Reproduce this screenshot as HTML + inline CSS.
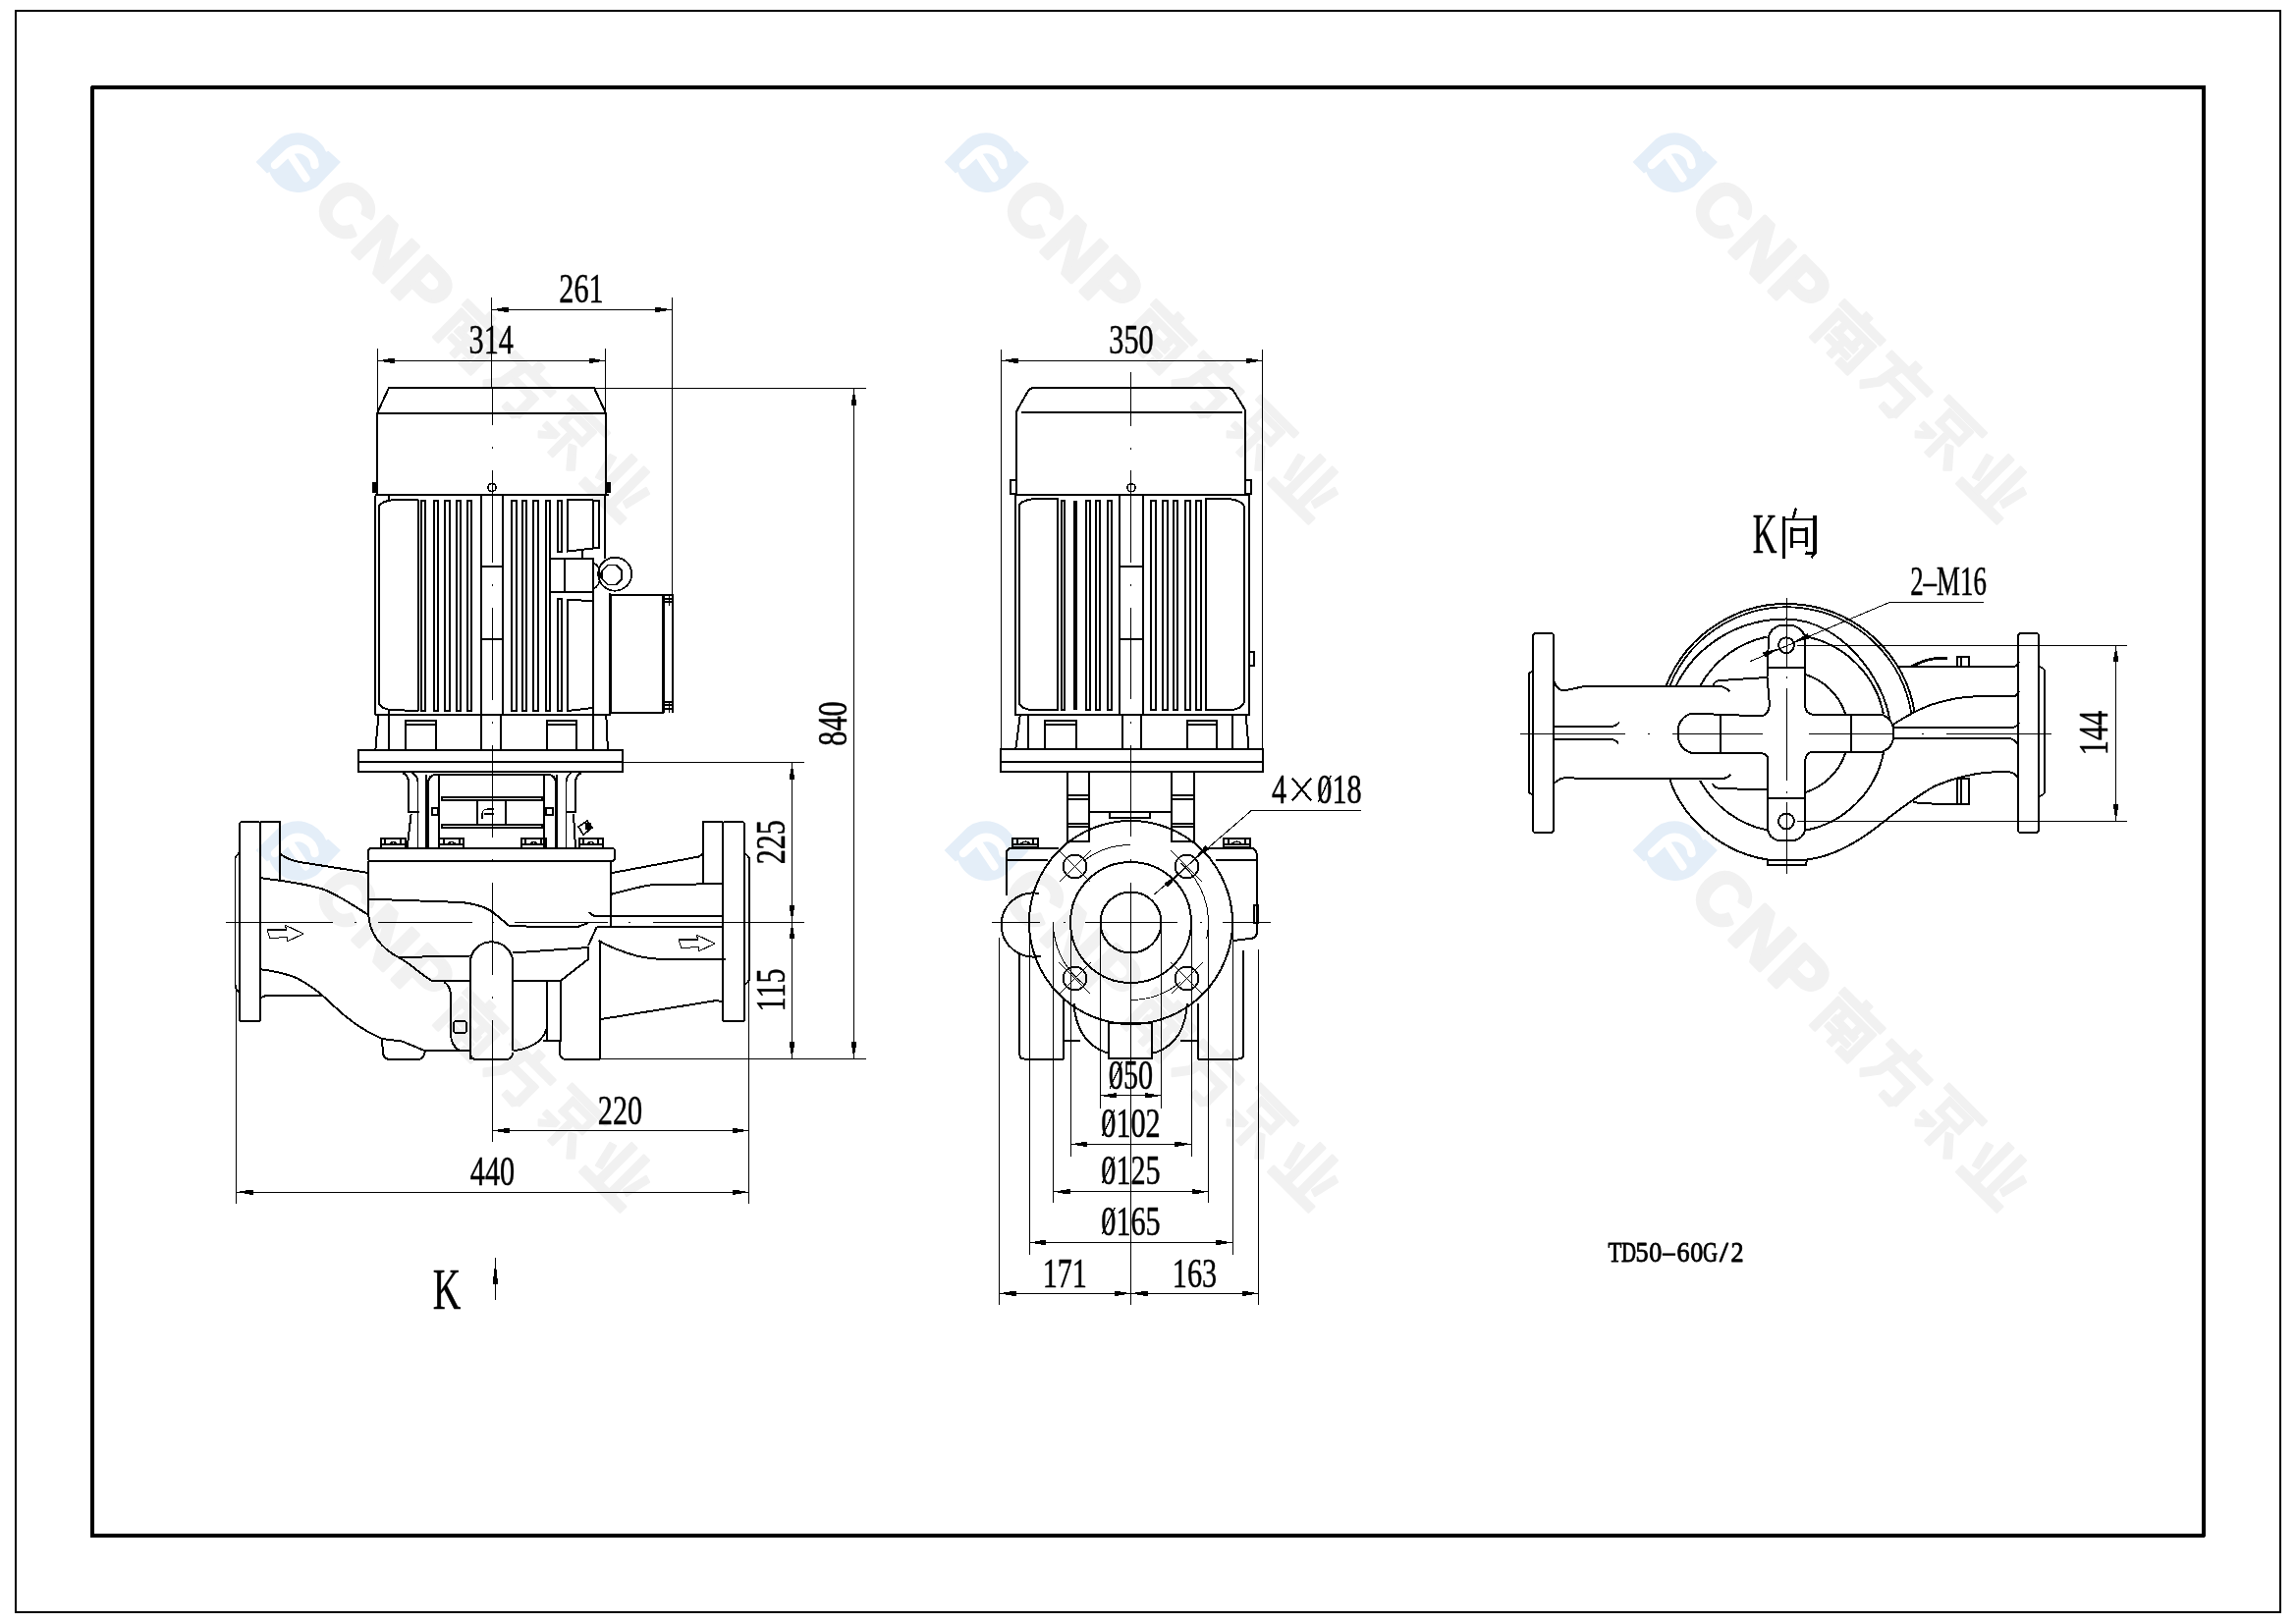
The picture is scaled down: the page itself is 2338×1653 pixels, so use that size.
<!DOCTYPE html>
<html><head><meta charset="utf-8"><style>
html,body{margin:0;padding:0;background:#fff;width:2338px;height:1653px;overflow:hidden}
svg{display:block}
</style></head><body>
<div style="will-change:transform"><svg width="2338" height="1653" viewBox="0 0 2338 1653">
<rect x="0" y="0" width="2338" height="1653" fill="#fff"/>
<g transform="translate(304,165)" stroke="none">
<path d="M-43.4,0 L-19.7,-23.6 A31.6,31.6 0 0 1 28.1,-10.3 L30.5,-11.3 L42.9,0 L19.7,24.2 A31.6,31.6 0 0 1 -29.6,9.9 L-32.1,11.4 Z" fill="#e4eef8"/>
<path d="M-24,3 L-10,-10 A17,17 0 0 1 16.5,3" fill="none" stroke="#fff" stroke-width="8.5" stroke-linecap="round"/>
<path d="M-9,-8 L7.5,16.5" fill="none" stroke="#fff" stroke-width="8" stroke-linecap="round"/>
</g>
<g transform="translate(304,165) rotate(45)" stroke="none" fill="#f1f1f1">
<text x="42" y="25.7" font-family="Liberation Sans" font-weight="bold" font-size="74" letter-spacing="3.4" stroke="#f1f1f1" stroke-width="4" stroke-linejoin="round">CNP</text>
<g transform="translate(221,-29) scale(1.04)" stroke="#f1f1f1" stroke-width="2.4" stroke-linejoin="round"><rect x="24" y="0" width="8" height="9"/><rect x="0" y="6" width="56" height="7"/><rect x="2" y="17" width="7" height="39"/><rect x="2" y="17" width="52" height="6"/><rect x="47" y="17" width="7" height="37"/><rect x="38" y="49" width="16" height="7"/><rect x="15" y="25" width="6" height="6"/><rect x="35" y="25" width="6" height="6"/><rect x="13" y="31" width="30" height="6"/><rect x="13" y="41" width="30" height="5"/><rect x="25" y="31" width="6" height="24"/></g>
<g transform="translate(292,-29) scale(1.04)" stroke="#f1f1f1" stroke-width="2.4" stroke-linejoin="round"><rect x="24" y="0" width="8" height="9"/><rect x="0" y="9" width="56" height="7"/><polygon points="13,16 21,16 16,40 4,56 -1,51 9,38"/><rect x="17" y="26" width="31" height="6"/><rect x="42" y="26" width="7" height="26"/><polygon points="30,50 49,50 44,57 30,56"/></g>
<g transform="translate(363,-29) scale(1.04)" stroke="#f1f1f1" stroke-width="2.4" stroke-linejoin="round"><rect x="2" y="0" width="52" height="6"/><rect x="12" y="9" width="32" height="5"/><rect x="12" y="9" width="5" height="19"/><rect x="39" y="9" width="5" height="19"/><rect x="12" y="23" width="32" height="5"/><rect x="25" y="30" width="6" height="26"/><polygon points="3,36 20,36 20,41 8,52 4,48 13,41 3,41"/><polygon points="34,36 40,33 55,50 50,55"/></g>
<g transform="translate(434,-29) scale(1.04)" stroke="#f1f1f1" stroke-width="2.4" stroke-linejoin="round"><rect x="16" y="0" width="7" height="48"/><rect x="33" y="0" width="7" height="48"/><polygon points="1,15 7,13 13,38 7,40"/><polygon points="55,15 49,13 43,38 49,40"/><rect x="0" y="48" width="56" height="8"/></g>
</g>
<g transform="translate(304,866)" stroke="none">
<path d="M-43.4,0 L-19.7,-23.6 A31.6,31.6 0 0 1 28.1,-10.3 L30.5,-11.3 L42.9,0 L19.7,24.2 A31.6,31.6 0 0 1 -29.6,9.9 L-32.1,11.4 Z" fill="#e4eef8"/>
<path d="M-24,3 L-10,-10 A17,17 0 0 1 16.5,3" fill="none" stroke="#fff" stroke-width="8.5" stroke-linecap="round"/>
<path d="M-9,-8 L7.5,16.5" fill="none" stroke="#fff" stroke-width="8" stroke-linecap="round"/>
</g>
<g transform="translate(304,866) rotate(45)" stroke="none" fill="#f1f1f1">
<text x="42" y="25.7" font-family="Liberation Sans" font-weight="bold" font-size="74" letter-spacing="3.4" stroke="#f1f1f1" stroke-width="4" stroke-linejoin="round">CNP</text>
<g transform="translate(221,-29) scale(1.04)" stroke="#f1f1f1" stroke-width="2.4" stroke-linejoin="round"><rect x="24" y="0" width="8" height="9"/><rect x="0" y="6" width="56" height="7"/><rect x="2" y="17" width="7" height="39"/><rect x="2" y="17" width="52" height="6"/><rect x="47" y="17" width="7" height="37"/><rect x="38" y="49" width="16" height="7"/><rect x="15" y="25" width="6" height="6"/><rect x="35" y="25" width="6" height="6"/><rect x="13" y="31" width="30" height="6"/><rect x="13" y="41" width="30" height="5"/><rect x="25" y="31" width="6" height="24"/></g>
<g transform="translate(292,-29) scale(1.04)" stroke="#f1f1f1" stroke-width="2.4" stroke-linejoin="round"><rect x="24" y="0" width="8" height="9"/><rect x="0" y="9" width="56" height="7"/><polygon points="13,16 21,16 16,40 4,56 -1,51 9,38"/><rect x="17" y="26" width="31" height="6"/><rect x="42" y="26" width="7" height="26"/><polygon points="30,50 49,50 44,57 30,56"/></g>
<g transform="translate(363,-29) scale(1.04)" stroke="#f1f1f1" stroke-width="2.4" stroke-linejoin="round"><rect x="2" y="0" width="52" height="6"/><rect x="12" y="9" width="32" height="5"/><rect x="12" y="9" width="5" height="19"/><rect x="39" y="9" width="5" height="19"/><rect x="12" y="23" width="32" height="5"/><rect x="25" y="30" width="6" height="26"/><polygon points="3,36 20,36 20,41 8,52 4,48 13,41 3,41"/><polygon points="34,36 40,33 55,50 50,55"/></g>
<g transform="translate(434,-29) scale(1.04)" stroke="#f1f1f1" stroke-width="2.4" stroke-linejoin="round"><rect x="16" y="0" width="7" height="48"/><rect x="33" y="0" width="7" height="48"/><polygon points="1,15 7,13 13,38 7,40"/><polygon points="55,15 49,13 43,38 49,40"/><rect x="0" y="48" width="56" height="8"/></g>
</g>
<g transform="translate(1005,165)" stroke="none">
<path d="M-43.4,0 L-19.7,-23.6 A31.6,31.6 0 0 1 28.1,-10.3 L30.5,-11.3 L42.9,0 L19.7,24.2 A31.6,31.6 0 0 1 -29.6,9.9 L-32.1,11.4 Z" fill="#e4eef8"/>
<path d="M-24,3 L-10,-10 A17,17 0 0 1 16.5,3" fill="none" stroke="#fff" stroke-width="8.5" stroke-linecap="round"/>
<path d="M-9,-8 L7.5,16.5" fill="none" stroke="#fff" stroke-width="8" stroke-linecap="round"/>
</g>
<g transform="translate(1005,165) rotate(45)" stroke="none" fill="#f1f1f1">
<text x="42" y="25.7" font-family="Liberation Sans" font-weight="bold" font-size="74" letter-spacing="3.4" stroke="#f1f1f1" stroke-width="4" stroke-linejoin="round">CNP</text>
<g transform="translate(221,-29) scale(1.04)" stroke="#f1f1f1" stroke-width="2.4" stroke-linejoin="round"><rect x="24" y="0" width="8" height="9"/><rect x="0" y="6" width="56" height="7"/><rect x="2" y="17" width="7" height="39"/><rect x="2" y="17" width="52" height="6"/><rect x="47" y="17" width="7" height="37"/><rect x="38" y="49" width="16" height="7"/><rect x="15" y="25" width="6" height="6"/><rect x="35" y="25" width="6" height="6"/><rect x="13" y="31" width="30" height="6"/><rect x="13" y="41" width="30" height="5"/><rect x="25" y="31" width="6" height="24"/></g>
<g transform="translate(292,-29) scale(1.04)" stroke="#f1f1f1" stroke-width="2.4" stroke-linejoin="round"><rect x="24" y="0" width="8" height="9"/><rect x="0" y="9" width="56" height="7"/><polygon points="13,16 21,16 16,40 4,56 -1,51 9,38"/><rect x="17" y="26" width="31" height="6"/><rect x="42" y="26" width="7" height="26"/><polygon points="30,50 49,50 44,57 30,56"/></g>
<g transform="translate(363,-29) scale(1.04)" stroke="#f1f1f1" stroke-width="2.4" stroke-linejoin="round"><rect x="2" y="0" width="52" height="6"/><rect x="12" y="9" width="32" height="5"/><rect x="12" y="9" width="5" height="19"/><rect x="39" y="9" width="5" height="19"/><rect x="12" y="23" width="32" height="5"/><rect x="25" y="30" width="6" height="26"/><polygon points="3,36 20,36 20,41 8,52 4,48 13,41 3,41"/><polygon points="34,36 40,33 55,50 50,55"/></g>
<g transform="translate(434,-29) scale(1.04)" stroke="#f1f1f1" stroke-width="2.4" stroke-linejoin="round"><rect x="16" y="0" width="7" height="48"/><rect x="33" y="0" width="7" height="48"/><polygon points="1,15 7,13 13,38 7,40"/><polygon points="55,15 49,13 43,38 49,40"/><rect x="0" y="48" width="56" height="8"/></g>
</g>
<g transform="translate(1005,866)" stroke="none">
<path d="M-43.4,0 L-19.7,-23.6 A31.6,31.6 0 0 1 28.1,-10.3 L30.5,-11.3 L42.9,0 L19.7,24.2 A31.6,31.6 0 0 1 -29.6,9.9 L-32.1,11.4 Z" fill="#e4eef8"/>
<path d="M-24,3 L-10,-10 A17,17 0 0 1 16.5,3" fill="none" stroke="#fff" stroke-width="8.5" stroke-linecap="round"/>
<path d="M-9,-8 L7.5,16.5" fill="none" stroke="#fff" stroke-width="8" stroke-linecap="round"/>
</g>
<g transform="translate(1005,866) rotate(45)" stroke="none" fill="#f1f1f1">
<text x="42" y="25.7" font-family="Liberation Sans" font-weight="bold" font-size="74" letter-spacing="3.4" stroke="#f1f1f1" stroke-width="4" stroke-linejoin="round">CNP</text>
<g transform="translate(221,-29) scale(1.04)" stroke="#f1f1f1" stroke-width="2.4" stroke-linejoin="round"><rect x="24" y="0" width="8" height="9"/><rect x="0" y="6" width="56" height="7"/><rect x="2" y="17" width="7" height="39"/><rect x="2" y="17" width="52" height="6"/><rect x="47" y="17" width="7" height="37"/><rect x="38" y="49" width="16" height="7"/><rect x="15" y="25" width="6" height="6"/><rect x="35" y="25" width="6" height="6"/><rect x="13" y="31" width="30" height="6"/><rect x="13" y="41" width="30" height="5"/><rect x="25" y="31" width="6" height="24"/></g>
<g transform="translate(292,-29) scale(1.04)" stroke="#f1f1f1" stroke-width="2.4" stroke-linejoin="round"><rect x="24" y="0" width="8" height="9"/><rect x="0" y="9" width="56" height="7"/><polygon points="13,16 21,16 16,40 4,56 -1,51 9,38"/><rect x="17" y="26" width="31" height="6"/><rect x="42" y="26" width="7" height="26"/><polygon points="30,50 49,50 44,57 30,56"/></g>
<g transform="translate(363,-29) scale(1.04)" stroke="#f1f1f1" stroke-width="2.4" stroke-linejoin="round"><rect x="2" y="0" width="52" height="6"/><rect x="12" y="9" width="32" height="5"/><rect x="12" y="9" width="5" height="19"/><rect x="39" y="9" width="5" height="19"/><rect x="12" y="23" width="32" height="5"/><rect x="25" y="30" width="6" height="26"/><polygon points="3,36 20,36 20,41 8,52 4,48 13,41 3,41"/><polygon points="34,36 40,33 55,50 50,55"/></g>
<g transform="translate(434,-29) scale(1.04)" stroke="#f1f1f1" stroke-width="2.4" stroke-linejoin="round"><rect x="16" y="0" width="7" height="48"/><rect x="33" y="0" width="7" height="48"/><polygon points="1,15 7,13 13,38 7,40"/><polygon points="55,15 49,13 43,38 49,40"/><rect x="0" y="48" width="56" height="8"/></g>
</g>
<g transform="translate(1706,165)" stroke="none">
<path d="M-43.4,0 L-19.7,-23.6 A31.6,31.6 0 0 1 28.1,-10.3 L30.5,-11.3 L42.9,0 L19.7,24.2 A31.6,31.6 0 0 1 -29.6,9.9 L-32.1,11.4 Z" fill="#e4eef8"/>
<path d="M-24,3 L-10,-10 A17,17 0 0 1 16.5,3" fill="none" stroke="#fff" stroke-width="8.5" stroke-linecap="round"/>
<path d="M-9,-8 L7.5,16.5" fill="none" stroke="#fff" stroke-width="8" stroke-linecap="round"/>
</g>
<g transform="translate(1706,165) rotate(45)" stroke="none" fill="#f1f1f1">
<text x="42" y="25.7" font-family="Liberation Sans" font-weight="bold" font-size="74" letter-spacing="3.4" stroke="#f1f1f1" stroke-width="4" stroke-linejoin="round">CNP</text>
<g transform="translate(221,-29) scale(1.04)" stroke="#f1f1f1" stroke-width="2.4" stroke-linejoin="round"><rect x="24" y="0" width="8" height="9"/><rect x="0" y="6" width="56" height="7"/><rect x="2" y="17" width="7" height="39"/><rect x="2" y="17" width="52" height="6"/><rect x="47" y="17" width="7" height="37"/><rect x="38" y="49" width="16" height="7"/><rect x="15" y="25" width="6" height="6"/><rect x="35" y="25" width="6" height="6"/><rect x="13" y="31" width="30" height="6"/><rect x="13" y="41" width="30" height="5"/><rect x="25" y="31" width="6" height="24"/></g>
<g transform="translate(292,-29) scale(1.04)" stroke="#f1f1f1" stroke-width="2.4" stroke-linejoin="round"><rect x="24" y="0" width="8" height="9"/><rect x="0" y="9" width="56" height="7"/><polygon points="13,16 21,16 16,40 4,56 -1,51 9,38"/><rect x="17" y="26" width="31" height="6"/><rect x="42" y="26" width="7" height="26"/><polygon points="30,50 49,50 44,57 30,56"/></g>
<g transform="translate(363,-29) scale(1.04)" stroke="#f1f1f1" stroke-width="2.4" stroke-linejoin="round"><rect x="2" y="0" width="52" height="6"/><rect x="12" y="9" width="32" height="5"/><rect x="12" y="9" width="5" height="19"/><rect x="39" y="9" width="5" height="19"/><rect x="12" y="23" width="32" height="5"/><rect x="25" y="30" width="6" height="26"/><polygon points="3,36 20,36 20,41 8,52 4,48 13,41 3,41"/><polygon points="34,36 40,33 55,50 50,55"/></g>
<g transform="translate(434,-29) scale(1.04)" stroke="#f1f1f1" stroke-width="2.4" stroke-linejoin="round"><rect x="16" y="0" width="7" height="48"/><rect x="33" y="0" width="7" height="48"/><polygon points="1,15 7,13 13,38 7,40"/><polygon points="55,15 49,13 43,38 49,40"/><rect x="0" y="48" width="56" height="8"/></g>
</g>
<g transform="translate(1706,866)" stroke="none">
<path d="M-43.4,0 L-19.7,-23.6 A31.6,31.6 0 0 1 28.1,-10.3 L30.5,-11.3 L42.9,0 L19.7,24.2 A31.6,31.6 0 0 1 -29.6,9.9 L-32.1,11.4 Z" fill="#e4eef8"/>
<path d="M-24,3 L-10,-10 A17,17 0 0 1 16.5,3" fill="none" stroke="#fff" stroke-width="8.5" stroke-linecap="round"/>
<path d="M-9,-8 L7.5,16.5" fill="none" stroke="#fff" stroke-width="8" stroke-linecap="round"/>
</g>
<g transform="translate(1706,866) rotate(45)" stroke="none" fill="#f1f1f1">
<text x="42" y="25.7" font-family="Liberation Sans" font-weight="bold" font-size="74" letter-spacing="3.4" stroke="#f1f1f1" stroke-width="4" stroke-linejoin="round">CNP</text>
<g transform="translate(221,-29) scale(1.04)" stroke="#f1f1f1" stroke-width="2.4" stroke-linejoin="round"><rect x="24" y="0" width="8" height="9"/><rect x="0" y="6" width="56" height="7"/><rect x="2" y="17" width="7" height="39"/><rect x="2" y="17" width="52" height="6"/><rect x="47" y="17" width="7" height="37"/><rect x="38" y="49" width="16" height="7"/><rect x="15" y="25" width="6" height="6"/><rect x="35" y="25" width="6" height="6"/><rect x="13" y="31" width="30" height="6"/><rect x="13" y="41" width="30" height="5"/><rect x="25" y="31" width="6" height="24"/></g>
<g transform="translate(292,-29) scale(1.04)" stroke="#f1f1f1" stroke-width="2.4" stroke-linejoin="round"><rect x="24" y="0" width="8" height="9"/><rect x="0" y="9" width="56" height="7"/><polygon points="13,16 21,16 16,40 4,56 -1,51 9,38"/><rect x="17" y="26" width="31" height="6"/><rect x="42" y="26" width="7" height="26"/><polygon points="30,50 49,50 44,57 30,56"/></g>
<g transform="translate(363,-29) scale(1.04)" stroke="#f1f1f1" stroke-width="2.4" stroke-linejoin="round"><rect x="2" y="0" width="52" height="6"/><rect x="12" y="9" width="32" height="5"/><rect x="12" y="9" width="5" height="19"/><rect x="39" y="9" width="5" height="19"/><rect x="12" y="23" width="32" height="5"/><rect x="25" y="30" width="6" height="26"/><polygon points="3,36 20,36 20,41 8,52 4,48 13,41 3,41"/><polygon points="34,36 40,33 55,50 50,55"/></g>
<g transform="translate(434,-29) scale(1.04)" stroke="#f1f1f1" stroke-width="2.4" stroke-linejoin="round"><rect x="16" y="0" width="7" height="48"/><rect x="33" y="0" width="7" height="48"/><polygon points="1,15 7,13 13,38 7,40"/><polygon points="55,15 49,13 43,38 49,40"/><rect x="0" y="48" width="56" height="8"/></g>
</g>
<g stroke="#000" fill="none" stroke-linejoin="round" font-family="Liberation Serif" shape-rendering="crispEdges">
<rect x="16.0" y="11.0" width="2306.0" height="1631.0" rx="0" stroke-width="2.2" fill="none"/>
<rect x="94.0" y="89.0" width="2150.0" height="1475.0" rx="0" stroke-width="4" fill="none"/>
<polyline points="384.0,421.0 396.0,395.0 605.0,395.0 617.0,421.0" stroke-width="2.0" fill="none"/>
<line x1="384.0" y1="421.0" x2="617.0" y2="421.0" stroke-width="2.0"/>
<line x1="384.0" y1="421.0" x2="384.0" y2="504.5" stroke-width="2.0"/>
<line x1="617.0" y1="421.0" x2="617.0" y2="504.5" stroke-width="2.0"/>
<rect x="379.0" y="491.0" width="5.5" height="11.0" fill="#000" stroke="none"/>
<rect x="616.5" y="491.0" width="5.5" height="11.0" fill="#000" stroke="none"/>
<circle cx="501.0" cy="496.5" r="4.0" stroke-width="1.6" fill="none"/>
<line x1="381.6" y1="504.0" x2="619.6" y2="504.0" stroke-width="2.0"/>
<line x1="382.0" y1="504.5" x2="382.0" y2="728.0" stroke-width="2.0"/>
<line x1="616.0" y1="504.5" x2="616.0" y2="569.0" stroke-width="2.0"/>
<path d="M425.5,509 L398,509.5 Q390,510.5 386,515 L386,717 Q389,722 398,723 L425.5,724 Z" stroke-width="2.0" fill="none"/>
<line x1="396.0" y1="504.5" x2="396.0" y2="510.0" stroke-width="1.6"/>
<line x1="396.0" y1="723.0" x2="396.0" y2="728.0" stroke-width="1.6"/>
<rect x="429.0" y="510.0" width="4.0" height="214.0" rx="0" stroke-width="1.8" fill="none"/>
<rect x="442.0" y="510.0" width="4.0" height="214.0" rx="0" stroke-width="1.8" fill="none"/>
<rect x="453.0" y="510.0" width="5.0" height="214.0" rx="0" stroke-width="1.8" fill="none"/>
<rect x="465.0" y="510.0" width="4.0" height="214.0" rx="0" stroke-width="1.8" fill="none"/>
<rect x="476.0" y="510.0" width="4.0" height="214.0" rx="0" stroke-width="1.8" fill="none"/>
<rect x="521.0" y="510.0" width="5.0" height="214.0" rx="0" stroke-width="1.8" fill="none"/>
<rect x="532.0" y="510.0" width="4.0" height="214.0" rx="0" stroke-width="1.8" fill="none"/>
<rect x="543.0" y="510.0" width="5.0" height="214.0" rx="0" stroke-width="1.8" fill="none"/>
<line x1="490.0" y1="504.5" x2="490.0" y2="728.0" stroke-width="2.0"/>
<line x1="512.0" y1="504.5" x2="512.0" y2="728.0" stroke-width="2.0"/>
<line x1="490.2" y1="577.0" x2="511.8" y2="577.0" stroke-width="2.0"/>
<line x1="490.2" y1="651.0" x2="511.8" y2="651.0" stroke-width="2.0"/>
<rect x="556.0" y="510.0" width="4.0" height="214.0" rx="0" stroke-width="1.8" fill="none"/>
<line x1="560.0" y1="569.3" x2="560.0" y2="603.2" stroke-width="2.0"/>
<rect x="568.0" y="510.0" width="4.0" height="52.0" rx="0" stroke-width="1.8" fill="none"/>
<rect x="568.0" y="610.0" width="4.0" height="114.0" rx="0" stroke-width="1.8" fill="none"/>
<path d="M577.7,509.2 L603.9,509.5 L603.9,558.5 L577.7,561.6 Z" stroke-width="2.0" fill="none"/>
<rect x="604.0" y="510.0" width="6.0" height="48.0" rx="0" stroke-width="1.6" fill="none"/>
<rect x="560.0" y="569.0" width="44.0" height="34.0" rx="0" stroke-width="2.0" fill="none"/>
<line x1="575.0" y1="569.3" x2="575.0" y2="603.2" stroke-width="2.0"/>
<line x1="593.0" y1="561.0" x2="593.0" y2="569.0" stroke-width="1.6"/>
<circle cx="626.2" cy="584.7" r="17.0" stroke-width="1.8" fill="none"/>
<polygon points="633.2,589.6 627.3,595.5 619.1,595.5 613.2,589.6 613.2,581.4 619.1,575.5 627.3,575.5 633.2,581.4" stroke-width="1.8" fill="none"/>
<path d="M604,573 Q611,576 611,586 Q611,597 604,600" stroke-width="1.6" fill="none"/>
<path d="M577.7,610.9 L603.9,612 L603.9,721 L577.7,724 Z" stroke-width="2.0" fill="none"/>
<line x1="604.0" y1="603.0" x2="604.0" y2="763.5" stroke-width="2.0"/>
<line x1="621.0" y1="604.0" x2="621.0" y2="727.0" stroke-width="2.0"/>
<rect x="622.0" y="606.0" width="53.0" height="120.0" rx="0" stroke-width="2.0" fill="none"/>
<line x1="676.0" y1="605.0" x2="676.0" y2="726.4" stroke-width="1.6"/>
<line x1="685.0" y1="604.7" x2="685.0" y2="726.4" stroke-width="1.6"/>
<line x1="677.0" y1="606.0" x2="685.5" y2="606.0" stroke-width="1.6"/>
<line x1="677.0" y1="610.0" x2="685.5" y2="610.0" stroke-width="1.6"/>
<line x1="677.0" y1="613.0" x2="685.5" y2="613.0" stroke-width="1.6"/>
<line x1="677.0" y1="715.0" x2="685.5" y2="715.0" stroke-width="1.6"/>
<line x1="677.0" y1="718.0" x2="685.5" y2="718.0" stroke-width="1.6"/>
<line x1="677.0" y1="722.0" x2="685.5" y2="722.0" stroke-width="1.6"/>
<line x1="681.5" y1="605.0" x2="681.5" y2="617.0" stroke-width="1.4"/>
<line x1="681.5" y1="714.0" x2="681.5" y2="726.0" stroke-width="1.4"/>
<line x1="381.6" y1="728.0" x2="622.0" y2="728.0" stroke-width="2.0"/>
<line x1="385.4" y1="728.5" x2="382.4" y2="763.5" stroke-width="2.0"/>
<line x1="617.3" y1="728.5" x2="618.9" y2="763.5" stroke-width="2.0"/>
<line x1="396.0" y1="728.0" x2="396.0" y2="763.5" stroke-width="2.0"/>
<rect x="413.0" y="734.0" width="31.0" height="30.0" rx="0" stroke-width="2.0" fill="none"/>
<line x1="413.0" y1="738.0" x2="444.0" y2="738.0" stroke-width="1.8"/>
<rect x="557.0" y="734.0" width="30.0" height="30.0" rx="0" stroke-width="2.0" fill="none"/>
<line x1="557.0" y1="738.0" x2="587.0" y2="738.0" stroke-width="1.8"/>
<line x1="490.0" y1="728.0" x2="490.0" y2="763.5" stroke-width="2.0"/>
<line x1="510.0" y1="728.0" x2="510.0" y2="763.5" stroke-width="2.0"/>
<rect x="365.0" y="764.0" width="269.0" height="22.0" rx="0" stroke-width="2.0" fill="none"/>
<line x1="365.4" y1="776.0" x2="634.3" y2="776.0" stroke-width="2.0"/>
<path d="M410,787 Q416,790 416,797 L416,827 L427,827" stroke-width="2.0" fill="none"/>
<path d="M418.6,829 L414.7,863.3" stroke-width="2.0" fill="none"/>
<path d="M419,787 Q425.5,790 425.5,797 L425.5,863" stroke-width="1.8" fill="none"/>
<line x1="434.0" y1="789.0" x2="434.0" y2="863.0" stroke-width="2.0"/>
<path d="M592,787 Q586,790 586,797 L586,827 L577,827" stroke-width="2.0" fill="none"/>
<path d="M584,829 L586,863.3" stroke-width="2.0" fill="none"/>
<path d="M582,787 Q576.5,790 576.5,797 L576.5,863" stroke-width="1.8" fill="none"/>
<line x1="567.0" y1="789.0" x2="567.0" y2="863.0" stroke-width="2.0"/>
<path d="M436,863 L436,798 Q436,788.6 446,788.6 L556,788.6 Q566,788.6 566,798 L566,863" stroke-width="2.0" fill="none"/>
<line x1="447.0" y1="789.0" x2="447.0" y2="863.0" stroke-width="1.8"/>
<line x1="554.0" y1="789.0" x2="554.0" y2="863.0" stroke-width="1.8"/>
<rect x="440.0" y="823.0" width="6.0" height="7.0" rx="0" stroke-width="1.6" fill="none"/>
<rect x="556.0" y="823.0" width="7.0" height="7.0" rx="0" stroke-width="1.6" fill="none"/>
<rect x="450.0" y="812.0" width="102.0" height="3.0" rx="0" stroke-width="1.6" fill="none"/>
<rect x="450.0" y="840.0" width="102.0" height="3.0" rx="0" stroke-width="1.6" fill="none"/>
<line x1="486.0" y1="815.0" x2="486.0" y2="840.0" stroke-width="1.8"/>
<line x1="515.0" y1="815.0" x2="515.0" y2="840.0" stroke-width="1.8"/>
<path d="M491,829 Q491,824 497,824 L503,824 M491,829 L491,834 M493,829 L503,829" stroke-width="1.2" fill="none"/>
<path d="M589,842 L598,836 L603,843 L594,850 Z" stroke-width="1.6" fill="none"/>
<rect x="596.0" y="838.0" width="6.0" height="7.0" fill="#000" stroke="none"/>
<rect x="388.0" y="854.0" width="25.0" height="10.0" rx="0" stroke-width="1.8" fill="none"/>
<line x1="388.0" y1="860.0" x2="413.0" y2="860.0" stroke-width="1.5"/>
<path d="M395.5,860.5 Q400.5,854.5 405.5,860.5" stroke-width="1.5" fill="none"/>
<line x1="392.0" y1="853.5" x2="392.0" y2="860.5" stroke-width="1.5"/>
<line x1="408.0" y1="853.5" x2="408.0" y2="860.5" stroke-width="1.5"/>
<rect x="447.0" y="854.0" width="25.0" height="10.0" rx="0" stroke-width="1.8" fill="none"/>
<line x1="447.0" y1="860.0" x2="472.5" y2="860.0" stroke-width="1.5"/>
<path d="M454.6,860.5 Q459.8,854.5 464.9,860.5" stroke-width="1.5" fill="none"/>
<line x1="452.0" y1="853.5" x2="452.0" y2="860.5" stroke-width="1.5"/>
<line x1="468.0" y1="853.5" x2="468.0" y2="860.5" stroke-width="1.5"/>
<rect x="531.0" y="854.0" width="25.0" height="10.0" rx="0" stroke-width="1.8" fill="none"/>
<line x1="531.0" y1="860.0" x2="555.7" y2="860.0" stroke-width="1.5"/>
<path d="M538.4,860.5 Q543.4,854.5 548.3,860.5" stroke-width="1.5" fill="none"/>
<line x1="535.0" y1="853.5" x2="535.0" y2="860.5" stroke-width="1.5"/>
<line x1="551.0" y1="853.5" x2="551.0" y2="860.5" stroke-width="1.5"/>
<rect x="590.0" y="854.0" width="24.0" height="10.0" rx="0" stroke-width="1.8" fill="none"/>
<line x1="590.0" y1="860.0" x2="613.5" y2="860.0" stroke-width="1.5"/>
<path d="M597.0,860.5 Q601.8,854.5 606.5,860.5" stroke-width="1.5" fill="none"/>
<line x1="594.0" y1="853.5" x2="594.0" y2="860.5" stroke-width="1.5"/>
<line x1="609.0" y1="853.5" x2="609.0" y2="860.5" stroke-width="1.5"/>
<rect x="375.0" y="864.0" width="251.0" height="13.0" rx="3" stroke-width="2.0" fill="none"/>
<line x1="375.0" y1="877.0" x2="375.0" y2="932.0" stroke-width="2.0"/>
<line x1="622.0" y1="877.0" x2="622.0" y2="932.0" stroke-width="2.0"/>
<rect x="244.0" y="837.0" width="21.0" height="203.0" rx="2.5" stroke-width="2.0" fill="none"/>
<polyline points="265.2,836.7 285.2,836.7 285.2,895.9" stroke-width="2.0" fill="none"/>
<polyline points="243.6,868.0 239.3,874.0 239.3,1005.4 243.6,1011.0" stroke-width="1.6" fill="none"/>
<path d="M285.2,869.2 C290,874 295,876 305,878 L375.3,889" stroke-width="2.0" fill="none"/>
<path d="M265.2,894.2 L285.5,896.8 C300,899 318,902 330,906 C345,912 360,922 375.3,932.1" stroke-width="2.0" fill="none"/>
<path d="M265.2,987.3 C280,989 292,992 302,996 C315,1003 325,1010 335,1020 C350,1035 370,1050 389,1058 L409.8,1060.6 L432,1070 L478.8,1070" stroke-width="2.0" fill="none"/>
<path d="M265.2,1017 Q268,1014 273,1014 L327,1014" stroke-width="2.0" fill="none"/>
<path d="M389,1058 L390,1073 Q391,1079 398,1079 L427,1079 Q432,1078 433,1070" stroke-width="2.0" fill="none"/>
<path d="M375.3,932 C376,950 388,966 406.3,975.3 C420,983 428,992 439,998.5 L478.8,998.5" stroke-width="2.0" fill="none"/>
<path d="M376,915.7 L470,919 C487,921 497,925 503,930 L518,942.5 L549,944.2 L588.7,943.8 L599,940" stroke-width="2.0" fill="none"/>
<line x1="406.0" y1="975.0" x2="478.8" y2="973.5" stroke-width="2.0"/>
<path d="M478.8,1079 L478.8,981 A21.75,21.75 0 0 1 522.3,981 L522.3,1070" stroke-width="2.0" fill="none"/>
<polyline points="522.3,970.5 599.0,965.0 599.0,977.0 571.4,998.5 522.3,998.5" stroke-width="2.0" fill="none"/>
<polyline points="607.6,944.2 599.0,963.2" stroke-width="2.0" fill="none"/>
<line x1="557.0" y1="999.0" x2="557.0" y2="1059.8" stroke-width="2.0"/>
<line x1="571.0" y1="999.0" x2="571.0" y2="1059.8" stroke-width="2.0"/>
<line x1="552.5" y1="1060.0" x2="572.3" y2="1060.0" stroke-width="2.0"/>
<path d="M523,1070 Q538,1069 549,1060 Q557,1052 557,1044" stroke-width="2.0" fill="none"/>
<path d="M569.7,1059.8 L569.7,1072 Q571,1079 577,1079 L611,1079" stroke-width="2.0" fill="none"/>
<path d="M478.8,1072 Q479,1079 485,1079 L515,1079 Q521.4,1079 522.3,1072" stroke-width="2.0" fill="none"/>
<path d="M452,1000 Q459,1004 459,1015 L459,1052 Q459,1065 468,1070" stroke-width="2.0" fill="none"/>
<rect x="462.0" y="1040.0" width="13.0" height="12.0" rx="3" stroke-width="1.8" fill="none"/>
<rect x="736.0" y="837.0" width="22.0" height="203.0" rx="2.5" stroke-width="2.0" fill="none"/>
<polyline points="715.5,870.0 715.5,836.7 736.2,836.7" stroke-width="2.0" fill="none"/>
<line x1="716.0" y1="870.0" x2="716.0" y2="900.2" stroke-width="2.0"/>
<polyline points="757.7,868.0 762.9,874.0 762.9,998.0 757.7,1004.0" stroke-width="1.6" fill="none"/>
<path d="M623.2,889 L711.2,872.6 Q714,871 715.5,870" stroke-width="2.0" fill="none"/>
<path d="M623.2,910.6 C640,906 655,902 666.3,901 L736.2,900.2" stroke-width="2.0" fill="none"/>
<path d="M600,929 Q603,933 606,933 L736.2,933" stroke-width="2.0" fill="none"/>
<line x1="607.7" y1="944.0" x2="736.2" y2="944.0" stroke-width="2.0"/>
<path d="M609.4,958 C620,964 635,970 650,974 C665,977 680,977.3 687,977.3 L738.8,977.3" stroke-width="2.0" fill="none"/>
<path d="M611,1038.2 L728.4,1019.2 Q733,1019 736,1021" stroke-width="2.0" fill="none"/>
<line x1="611.0" y1="958.0" x2="611.0" y2="1079.0" stroke-width="2.0"/>
<line x1="622.0" y1="932.0" x2="622.0" y2="944.0" stroke-width="2.0"/>
<path d="M272,947 L292,947 L290,942 L309,951 L292,959 L293,954 L275,956 Z" stroke-width="1.1" fill="none"/>
<path d="M691,957 L711,957 L709,952 L728,961 L711,969 L712,964 L694,966 Z" stroke-width="1.1" fill="none"/>
<line x1="501.5" y1="395.0" x2="501.5" y2="433.0" stroke-width="1.0"/>
<line x1="501.5" y1="479.0" x2="501.5" y2="573.0" stroke-width="1.0"/>
<line x1="501.5" y1="619.0" x2="501.5" y2="713.0" stroke-width="1.0"/>
<line x1="501.5" y1="759.0" x2="501.5" y2="853.0" stroke-width="1.0"/>
<line x1="501.5" y1="899.0" x2="501.5" y2="993.0" stroke-width="1.0"/>
<line x1="501.5" y1="1039.0" x2="501.5" y2="1079.0" stroke-width="1.0"/>
<line x1="501.5" y1="455.0" x2="501.5" y2="457.0" stroke-width="1.0"/>
<line x1="501.5" y1="595.0" x2="501.5" y2="597.0" stroke-width="1.0"/>
<line x1="501.5" y1="735.0" x2="501.5" y2="737.0" stroke-width="1.0"/>
<line x1="501.5" y1="875.0" x2="501.5" y2="877.0" stroke-width="1.0"/>
<line x1="501.5" y1="1015.0" x2="501.5" y2="1017.0" stroke-width="1.0"/>
<line x1="230.0" y1="939.5" x2="339.0" y2="939.5" stroke-width="1.0"/>
<line x1="384.7" y1="939.5" x2="480.5" y2="939.5" stroke-width="1.0"/>
<line x1="524.0" y1="939.5" x2="619.0" y2="939.5" stroke-width="1.0"/>
<line x1="664.6" y1="939.5" x2="780.0" y2="939.5" stroke-width="1.0"/>
<line x1="360.5" y1="939.5" x2="362.5" y2="939.5" stroke-width="1.0"/>
<line x1="501.0" y1="939.5" x2="503.0" y2="939.5" stroke-width="1.0"/>
<line x1="640.3" y1="939.5" x2="642.3" y2="939.5" stroke-width="1.0"/>
<line x1="500.5" y1="303.0" x2="500.5" y2="395.0" stroke-width="1.0"/>
<line x1="684.5" y1="303.0" x2="684.5" y2="605.0" stroke-width="1.0"/>
<line x1="500.5" y1="315.5" x2="684.3" y2="315.5" stroke-width="1.0"/>
<polygon points="500.5,315.4 515.5,312.8 517.5,312.8 517.5,318.0 515.5,318.0" fill="#000" stroke="none"/>
<polygon points="684.3,315.4 669.3,318.0 667.3,318.0 667.3,312.8 669.3,312.8" fill="#000" stroke="none"/>
<text class="t" transform="translate(592.0,308.0) scale(0.72,1)" text-anchor="middle" font-size="42" font-weight="normal" stroke="#000" stroke-width="0.5" fill="#000">261</text>
<line x1="384.5" y1="354.7" x2="384.5" y2="420.0" stroke-width="1.0"/>
<line x1="616.5" y1="354.7" x2="616.5" y2="420.0" stroke-width="1.0"/>
<line x1="384.5" y1="367.5" x2="616.5" y2="367.5" stroke-width="1.0"/>
<polygon points="384.5,367.4 399.5,364.8 401.5,364.8 401.5,370.0 399.5,370.0" fill="#000" stroke="none"/>
<polygon points="616.5,367.4 601.5,370.0 599.5,370.0 599.5,364.8 601.5,364.8" fill="#000" stroke="none"/>
<text class="t" transform="translate(500.2,360.0) scale(0.72,1)" text-anchor="middle" font-size="42" font-weight="normal" stroke="#000" stroke-width="0.5" fill="#000">314</text>
<line x1="605.0" y1="395.5" x2="882.0" y2="395.5" stroke-width="1.0"/>
<line x1="611.0" y1="1078.5" x2="881.7" y2="1078.5" stroke-width="1.0"/>
<line x1="869.5" y1="395.8" x2="869.5" y2="1078.3" stroke-width="1.0"/>
<polygon points="869.5,395.8 872.1,410.8 872.1,412.8 866.9,412.8 866.9,410.8" fill="#000" stroke="none"/>
<polygon points="869.5,1078.3 866.9,1063.3 866.9,1061.3 872.1,1061.3 872.1,1063.3" fill="#000" stroke="none"/>
<text class="t" transform="translate(862.0,737.0) rotate(-90) scale(0.72,1)" text-anchor="middle" font-size="42" font-weight="normal" stroke="#000" stroke-width="0.5" fill="#000">840</text>
<line x1="634.3" y1="776.5" x2="818.9" y2="776.5" stroke-width="1.0"/>
<line x1="762.0" y1="939.5" x2="818.9" y2="939.5" stroke-width="1.0"/>
<line x1="806.5" y1="776.9" x2="806.5" y2="939.1" stroke-width="1.0"/>
<polygon points="806.5,776.9 809.1,791.9 809.1,793.9 803.9,793.9 803.9,791.9" fill="#000" stroke="none"/>
<polygon points="806.5,939.1 803.9,924.1 803.9,922.1 809.1,922.1 809.1,924.1" fill="#000" stroke="none"/>
<text class="t" transform="translate(799.0,857.7) rotate(-90) scale(0.72,1)" text-anchor="middle" font-size="42" font-weight="normal" stroke="#000" stroke-width="0.5" fill="#000">225</text>
<line x1="806.5" y1="939.1" x2="806.5" y2="1078.3" stroke-width="1.0"/>
<polygon points="806.5,939.1 809.1,954.1 809.1,956.1 803.9,956.1 803.9,954.1" fill="#000" stroke="none"/>
<polygon points="806.5,1078.3 803.9,1063.3 803.9,1061.3 809.1,1061.3 809.1,1063.3" fill="#000" stroke="none"/>
<text class="t" transform="translate(799.0,1008.5) rotate(-90) scale(0.72,1)" text-anchor="middle" font-size="42" font-weight="normal" stroke="#000" stroke-width="0.5" fill="#000">115</text>
<line x1="501.5" y1="1079.0" x2="501.5" y2="1163.4" stroke-width="1.0"/>
<line x1="762.5" y1="1000.0" x2="762.5" y2="1225.6" stroke-width="1.0"/>
<line x1="501.7" y1="1151.5" x2="762.7" y2="1151.5" stroke-width="1.0"/>
<polygon points="501.7,1151.5 516.7,1148.9 518.7,1148.9 518.7,1154.1 516.7,1154.1" fill="#000" stroke="none"/>
<polygon points="762.7,1151.5 747.7,1154.1 745.7,1154.1 745.7,1148.9 747.7,1148.9" fill="#000" stroke="none"/>
<text class="t" transform="translate(631.5,1144.6) scale(0.72,1)" text-anchor="middle" font-size="42" font-weight="normal" stroke="#000" stroke-width="0.5" fill="#000">220</text>
<line x1="240.5" y1="1003.0" x2="240.5" y2="1225.6" stroke-width="1.0"/>
<line x1="240.5" y1="1214.5" x2="762.7" y2="1214.5" stroke-width="1.0"/>
<polygon points="240.5,1214.1 255.5,1211.5 257.5,1211.5 257.5,1216.7 255.5,1216.7" fill="#000" stroke="none"/>
<polygon points="762.7,1214.1 747.7,1216.7 745.7,1216.7 745.7,1211.5 747.7,1211.5" fill="#000" stroke="none"/>
<text class="t" transform="translate(501.5,1206.8) scale(0.72,1)" text-anchor="middle" font-size="42" font-weight="normal" stroke="#000" stroke-width="0.5" fill="#000">440</text>
<text class="t" transform="translate(455.0,1333.2) scale(0.67,1)" text-anchor="middle" font-size="59" font-weight="normal" stroke="#000" stroke-width="0.5" fill="#000">K</text>
<line x1="504.5" y1="1281.0" x2="504.5" y2="1324.0" stroke-width="1.0"/>
<polygon points="504.4,1284.0 507.0,1306.0 507.0,1308.0 501.8,1308.0 501.8,1306.0" fill="#000" stroke="none"/>
<path d="M1035.1,419 L1047,398 Q1050,394.7 1055,394.7 L1248,394.7 Q1253,394.7 1256,398 L1268.7,419" stroke-width="2.0" fill="none"/>
<line x1="1039.5" y1="420.0" x2="1265.0" y2="420.0" stroke-width="2.0"/>
<line x1="1035.0" y1="418.0" x2="1035.0" y2="504.8" stroke-width="2.0"/>
<line x1="1268.0" y1="418.0" x2="1268.0" y2="504.8" stroke-width="2.0"/>
<circle cx="1152.0" cy="496.7" r="4.0" stroke-width="1.6" fill="none"/>
<rect x="1029.0" y="489.0" width="6.0" height="14.0" rx="0" stroke-width="1.6" fill="none"/>
<rect x="1268.0" y="489.0" width="6.0" height="14.0" rx="0" stroke-width="1.6" fill="none"/>
<rect x="1034.0" y="504.0" width="238.0" height="224.0" rx="0" stroke-width="2.0" fill="none"/>
<path d="M1076.9,508 L1050,508.5 Q1040,510 1037.5,515 L1037.5,716 Q1040,722 1050,723 L1076.9,723 Z" stroke-width="2.0" fill="none"/>
<path d="M1227.7,508 L1254,508.5 Q1264,510 1266.5,515 L1266.5,716 Q1264,722 1254,723 L1227.7,723 Z" stroke-width="2.0" fill="none"/>
<rect x="1081.0" y="510.0" width="3.0" height="213.0" rx="0" stroke-width="1.8" fill="none"/>
<rect x="1106.0" y="510.0" width="4.0" height="213.0" rx="0" stroke-width="1.8" fill="none"/>
<rect x="1116.0" y="510.0" width="4.0" height="213.0" rx="0" stroke-width="1.8" fill="none"/>
<rect x="1128.0" y="510.0" width="4.0" height="213.0" rx="0" stroke-width="1.8" fill="none"/>
<rect x="1172.0" y="510.0" width="5.0" height="213.0" rx="0" stroke-width="1.8" fill="none"/>
<rect x="1184.0" y="510.0" width="5.0" height="213.0" rx="0" stroke-width="1.8" fill="none"/>
<rect x="1195.0" y="510.0" width="4.0" height="213.0" rx="0" stroke-width="1.8" fill="none"/>
<rect x="1207.0" y="510.0" width="5.0" height="213.0" rx="0" stroke-width="1.8" fill="none"/>
<rect x="1218.0" y="510.0" width="5.0" height="213.0" rx="0" stroke-width="1.8" fill="none"/>
<rect x="1093.0" y="509.5" width="3.5" height="213.5" fill="#000" stroke="none"/>
<line x1="1140.0" y1="504.3" x2="1140.0" y2="727.7" stroke-width="2.0"/>
<line x1="1164.0" y1="504.3" x2="1164.0" y2="727.7" stroke-width="2.0"/>
<line x1="1140.0" y1="577.0" x2="1163.8" y2="577.0" stroke-width="2.0"/>
<line x1="1140.0" y1="651.0" x2="1163.8" y2="651.0" stroke-width="2.0"/>
<rect x="1272.0" y="664.0" width="5.0" height="14.0" rx="0" stroke-width="1.6" fill="none"/>
<line x1="1038.7" y1="728.7" x2="1034.3" y2="763.1" stroke-width="2.0"/>
<line x1="1268.8" y1="728.7" x2="1271.6" y2="763.1" stroke-width="2.0"/>
<line x1="1047.0" y1="728.0" x2="1047.0" y2="763.1" stroke-width="2.0"/>
<line x1="1255.0" y1="728.0" x2="1255.0" y2="763.1" stroke-width="2.0"/>
<rect x="1064.0" y="734.0" width="32.0" height="29.0" rx="0" stroke-width="2.0" fill="none"/>
<line x1="1064.5" y1="738.0" x2="1096.0" y2="738.0" stroke-width="1.8"/>
<rect x="1209.0" y="734.0" width="30.0" height="29.0" rx="0" stroke-width="2.0" fill="none"/>
<line x1="1208.6" y1="738.0" x2="1239.2" y2="738.0" stroke-width="1.8"/>
<line x1="1143.0" y1="728.0" x2="1143.0" y2="763.1" stroke-width="2.0"/>
<line x1="1162.0" y1="728.0" x2="1162.0" y2="763.1" stroke-width="2.0"/>
<rect x="1019.0" y="763.0" width="267.0" height="23.0" rx="0" stroke-width="2.0" fill="none"/>
<line x1="1018.6" y1="776.0" x2="1286.0" y2="776.0" stroke-width="2.0"/>
<rect x="1087.0" y="786.0" width="22.0" height="71.0" rx="0" stroke-width="2.0" fill="none"/>
<rect x="1193.0" y="786.0" width="23.0" height="71.0" rx="0" stroke-width="2.0" fill="none"/>
<line x1="1086.6" y1="810.0" x2="1109.3" y2="810.0" stroke-width="1.6"/>
<line x1="1193.0" y1="810.0" x2="1215.7" y2="810.0" stroke-width="1.6"/>
<line x1="1086.6" y1="814.0" x2="1109.3" y2="814.0" stroke-width="1.6"/>
<line x1="1193.0" y1="814.0" x2="1215.7" y2="814.0" stroke-width="1.6"/>
<line x1="1086.6" y1="839.0" x2="1109.3" y2="839.0" stroke-width="1.6"/>
<line x1="1193.0" y1="839.0" x2="1215.7" y2="839.0" stroke-width="1.6"/>
<line x1="1086.6" y1="842.0" x2="1109.3" y2="842.0" stroke-width="1.6"/>
<line x1="1193.0" y1="842.0" x2="1215.7" y2="842.0" stroke-width="1.6"/>
<line x1="1109.3" y1="827.0" x2="1193.0" y2="827.0" stroke-width="2.0"/>
<rect x="1130.0" y="827.0" width="41.0" height="6.0" rx="0" stroke-width="1.8" fill="none"/>
<path d="M1078,863.6 L1031,863.6 Q1024.5,864 1024.5,871 L1024.5,912" stroke-width="2.0" fill="none"/>
<line x1="1024.5" y1="876.0" x2="1067.0" y2="876.0" stroke-width="2.0"/>
<path d="M1228,863.6 L1273,863.6 Q1279.8,864 1279.8,871 L1279.8,950 Q1279.8,956 1272,956 L1256,958" stroke-width="2.0" fill="none"/>
<line x1="1238.0" y1="876.0" x2="1279.8" y2="876.0" stroke-width="2.0"/>
<rect x="1277.0" y="922.0" width="4.0" height="18.0" rx="0" stroke-width="1.6" fill="none"/>
<rect x="1031.0" y="854.0" width="26.0" height="9.0" rx="0" stroke-width="1.8" fill="none"/>
<line x1="1031.4" y1="860.0" x2="1057.0" y2="860.0" stroke-width="1.5"/>
<path d="M1039.1,859.6 Q1044.2,854.8 1049.3,859.6" stroke-width="1.5" fill="none"/>
<line x1="1036.0" y1="853.8" x2="1036.0" y2="859.6" stroke-width="1.5"/>
<line x1="1052.0" y1="853.8" x2="1052.0" y2="859.6" stroke-width="1.5"/>
<rect x="1246.0" y="854.0" width="27.0" height="9.0" rx="0" stroke-width="1.8" fill="none"/>
<line x1="1246.0" y1="860.0" x2="1272.9" y2="860.0" stroke-width="1.5"/>
<path d="M1254.1,859.6 Q1259.5,854.8 1264.8,859.6" stroke-width="1.5" fill="none"/>
<line x1="1251.0" y1="853.8" x2="1251.0" y2="859.6" stroke-width="1.5"/>
<line x1="1268.0" y1="853.8" x2="1268.0" y2="859.6" stroke-width="1.5"/>
<path d="M1058,910 A32.5,32.5 0 1 0 1060,973.5" stroke-width="2.0" fill="none"/>
<path d="M1038.3,972 L1038.3,1074 Q1038.3,1078.5 1043,1078.5 L1082.6,1078.5 L1082.6,1018" stroke-width="2.0" fill="none"/>
<path d="M1266,968 L1266,1074 Q1266,1078.5 1261,1078.5 L1219.6,1078.5 L1219.6,1022" stroke-width="2.0" fill="none"/>
<line x1="1082.6" y1="1060.0" x2="1100.0" y2="1060.0" stroke-width="1.8"/>
<line x1="1202.0" y1="1060.0" x2="1219.6" y2="1060.0" stroke-width="1.8"/>
<path d="M1093.5,1022 Q1096,1060 1125,1071.6 L1129,1071.6" stroke-width="2.0" fill="none"/>
<path d="M1173.3,1071.6 L1178,1071.6 Q1207,1060 1208.8,1022" stroke-width="2.0" fill="none"/>
<rect x="1129.0" y="1042.0" width="44.0" height="36.0" rx="0" stroke-width="2.0" fill="none"/>
<circle cx="1151.5" cy="939.5" r="103.5" stroke-width="2.0" fill="none"/>
<circle cx="1151.5" cy="939.5" r="61.5" stroke-width="2.0" fill="none"/>
<circle cx="1151.5" cy="939.5" r="31.0" stroke-width="2.0" fill="none"/>
<path d="M1102.9,877.2 A79.0,79.0 0 0 1 1151.5,860.5" stroke-width="1.0" fill="none"/>
<path d="M1202.3,879.0 A79.0,79.0 0 0 1 1228.8,955.9" stroke-width="1.0" fill="none"/>
<path d="M1102.9,1001.8 A79.0,79.0 0 0 1 1072.5,939.5" stroke-width="1.0" fill="none"/>
<path d="M1202.3,1000.0 A79.0,79.0 0 0 1 1151.5,1018.5" stroke-width="1.0" fill="none"/>
<circle cx="1094.5" cy="882.5" r="11.8" stroke-width="2.0" fill="none"/>
<line x1="1078.5" y1="866.5" x2="1110.5" y2="898.5" stroke-width="1.0"/>
<line x1="1078.5" y1="898.5" x2="1110.5" y2="866.5" stroke-width="1.0"/>
<circle cx="1094.5" cy="996.5" r="11.8" stroke-width="2.0" fill="none"/>
<line x1="1078.5" y1="980.5" x2="1110.5" y2="1012.5" stroke-width="1.0"/>
<line x1="1078.5" y1="1012.5" x2="1110.5" y2="980.5" stroke-width="1.0"/>
<circle cx="1208.5" cy="882.5" r="11.8" stroke-width="2.0" fill="none"/>
<line x1="1192.5" y1="866.5" x2="1224.5" y2="898.5" stroke-width="1.0"/>
<line x1="1192.5" y1="898.5" x2="1224.5" y2="866.5" stroke-width="1.0"/>
<circle cx="1208.5" cy="996.5" r="11.8" stroke-width="2.0" fill="none"/>
<line x1="1192.5" y1="980.5" x2="1224.5" y2="1012.5" stroke-width="1.0"/>
<line x1="1192.5" y1="1012.5" x2="1224.5" y2="980.5" stroke-width="1.0"/>
<line x1="1151.5" y1="379.0" x2="1151.5" y2="434.0" stroke-width="1.0"/>
<line x1="1151.5" y1="479.0" x2="1151.5" y2="573.0" stroke-width="1.0"/>
<line x1="1151.5" y1="619.0" x2="1151.5" y2="712.0" stroke-width="1.0"/>
<line x1="1151.5" y1="759.0" x2="1151.5" y2="852.0" stroke-width="1.0"/>
<line x1="1151.5" y1="899.0" x2="1151.5" y2="1020.0" stroke-width="1.0"/>
<line x1="1151.5" y1="456.0" x2="1151.5" y2="458.0" stroke-width="1.0"/>
<line x1="1151.5" y1="595.0" x2="1151.5" y2="597.0" stroke-width="1.0"/>
<line x1="1151.5" y1="735.0" x2="1151.5" y2="737.0" stroke-width="1.0"/>
<line x1="1151.5" y1="875.0" x2="1151.5" y2="877.0" stroke-width="1.0"/>
<line x1="1151.5" y1="1020.0" x2="1151.5" y2="1329.0" stroke-width="1.0"/>
<line x1="1009.6" y1="939.5" x2="1059.2" y2="939.5" stroke-width="1.0"/>
<line x1="1104.9" y1="939.5" x2="1199.1" y2="939.5" stroke-width="1.0"/>
<line x1="1245.0" y1="939.5" x2="1294.0" y2="939.5" stroke-width="1.0"/>
<line x1="1082.8" y1="939.5" x2="1084.8" y2="939.5" stroke-width="1.0"/>
<line x1="1222.0" y1="939.5" x2="1224.0" y2="939.5" stroke-width="1.0"/>
<line x1="1019.5" y1="355.5" x2="1019.5" y2="763.0" stroke-width="1.0"/>
<line x1="1285.5" y1="355.5" x2="1285.5" y2="763.0" stroke-width="1.0"/>
<line x1="1017.5" y1="955.0" x2="1017.5" y2="1329.0" stroke-width="1.0"/>
<line x1="1281.5" y1="967.0" x2="1281.5" y2="1329.0" stroke-width="1.0"/>
<line x1="1019.6" y1="367.5" x2="1285.7" y2="367.5" stroke-width="1.0"/>
<polygon points="1019.6,367.3 1034.6,364.7 1036.6,364.7 1036.6,369.9 1034.6,369.9" fill="#000" stroke="none"/>
<polygon points="1285.7,367.3 1270.7,369.9 1268.7,369.9 1268.7,364.7 1270.7,364.7" fill="#000" stroke="none"/>
<text class="t" transform="translate(1152.0,360.0) scale(0.72,1)" text-anchor="middle" font-size="42" font-weight="normal" stroke="#000" stroke-width="0.5" fill="#000">350</text>
<line x1="1120.5" y1="945.0" x2="1120.5" y2="1128.7" stroke-width="1.0"/>
<line x1="1182.5" y1="945.0" x2="1182.5" y2="1128.7" stroke-width="1.0"/>
<line x1="1120.3" y1="1115.5" x2="1182.7" y2="1115.5" stroke-width="1.0"/>
<polygon points="1120.3,1115.8 1135.3,1113.2 1137.3,1113.2 1137.3,1118.4 1135.3,1118.4" fill="#000" stroke="none"/>
<polygon points="1182.7,1115.8 1167.7,1118.4 1165.7,1118.4 1165.7,1113.2 1167.7,1113.2" fill="#000" stroke="none"/>
<text class="t" transform="translate(1151.5,1109.3) scale(0.72,1)" text-anchor="middle" font-size="42" font-weight="normal" stroke="#000" stroke-width="0.5" fill="#000">050</text>
<line x1="1142.6" y1="1081.3" x2="1130.0" y2="1108.3" stroke-width="1.4"/>
<line x1="1090.5" y1="945.0" x2="1090.5" y2="1177.7" stroke-width="1.0"/>
<line x1="1213.5" y1="945.0" x2="1213.5" y2="1177.7" stroke-width="1.0"/>
<line x1="1090.4" y1="1165.5" x2="1213.2" y2="1165.5" stroke-width="1.0"/>
<polygon points="1090.4,1165.3 1105.4,1162.7 1107.4,1162.7 1107.4,1167.9 1105.4,1167.9" fill="#000" stroke="none"/>
<polygon points="1213.2,1165.3 1198.2,1167.9 1196.2,1167.9 1196.2,1162.7 1198.2,1162.7" fill="#000" stroke="none"/>
<text class="t" transform="translate(1151.5,1158.3) scale(0.72,1)" text-anchor="middle" font-size="42" font-weight="normal" stroke="#000" stroke-width="0.5" fill="#000">0102</text>
<line x1="1135.0" y1="1130.3" x2="1122.4" y2="1157.3" stroke-width="1.4"/>
<line x1="1072.5" y1="945.0" x2="1072.5" y2="1224.8" stroke-width="1.0"/>
<line x1="1230.5" y1="945.0" x2="1230.5" y2="1224.8" stroke-width="1.0"/>
<line x1="1072.5" y1="1213.5" x2="1230.5" y2="1213.5" stroke-width="1.0"/>
<polygon points="1072.5,1213.8 1087.5,1211.2 1089.5,1211.2 1089.5,1216.4 1087.5,1216.4" fill="#000" stroke="none"/>
<polygon points="1230.5,1213.8 1215.5,1216.4 1213.5,1216.4 1213.5,1211.2 1215.5,1211.2" fill="#000" stroke="none"/>
<text class="t" transform="translate(1151.5,1206.4) scale(0.72,1)" text-anchor="middle" font-size="42" font-weight="normal" stroke="#000" stroke-width="0.5" fill="#000">0125</text>
<line x1="1135.0" y1="1178.4" x2="1122.4" y2="1205.4" stroke-width="1.4"/>
<line x1="1048.5" y1="945.0" x2="1048.5" y2="1277.5" stroke-width="1.0"/>
<line x1="1255.5" y1="945.0" x2="1255.5" y2="1277.5" stroke-width="1.0"/>
<line x1="1048.0" y1="1265.5" x2="1255.0" y2="1265.5" stroke-width="1.0"/>
<polygon points="1048.0,1265.5 1063.0,1262.9 1065.0,1262.9 1065.0,1268.1 1063.0,1268.1" fill="#000" stroke="none"/>
<polygon points="1255.0,1265.5 1240.0,1268.1 1238.0,1268.1 1238.0,1262.9 1240.0,1262.9" fill="#000" stroke="none"/>
<text class="t" transform="translate(1151.5,1258.0) scale(0.72,1)" text-anchor="middle" font-size="42" font-weight="normal" stroke="#000" stroke-width="0.5" fill="#000">0165</text>
<line x1="1135.0" y1="1230.0" x2="1122.4" y2="1257.0" stroke-width="1.4"/>
<line x1="1017.5" y1="1317.5" x2="1151.5" y2="1317.5" stroke-width="1.0"/>
<polygon points="1017.5,1317.3 1032.5,1314.7 1034.5,1314.7 1034.5,1319.9 1032.5,1319.9" fill="#000" stroke="none"/>
<polygon points="1151.5,1317.3 1136.5,1319.9 1134.5,1319.9 1134.5,1314.7 1136.5,1314.7" fill="#000" stroke="none"/>
<line x1="1151.5" y1="1317.5" x2="1281.5" y2="1317.5" stroke-width="1.0"/>
<polygon points="1151.5,1317.3 1166.5,1314.7 1168.5,1314.7 1168.5,1319.9 1166.5,1319.9" fill="#000" stroke="none"/>
<polygon points="1281.5,1317.3 1266.5,1319.9 1264.5,1319.9 1264.5,1314.7 1266.5,1314.7" fill="#000" stroke="none"/>
<text class="t" transform="translate(1084.3,1310.8) scale(0.72,1)" text-anchor="middle" font-size="42" font-weight="normal" stroke="#000" stroke-width="0.5" fill="#000">171</text>
<text class="t" transform="translate(1216.5,1310.8) scale(0.72,1)" text-anchor="middle" font-size="42" font-weight="normal" stroke="#000" stroke-width="0.5" fill="#000">163</text>
<line x1="1175.3" y1="911.0" x2="1274.5" y2="825.3" stroke-width="1.0"/>
<line x1="1274.5" y1="825.5" x2="1386.0" y2="825.5" stroke-width="1.0"/>
<polygon points="1216.7,874.1 1226.4,862.3 1227.9,861.0 1231.3,865.0 1229.8,866.3" fill="#000" stroke="none"/>
<polygon points="1200.1,890.7 1190.4,902.5 1188.9,903.8 1185.5,899.8 1187.0,898.5" fill="#000" stroke="none"/>
<text class="t" transform="translate(1302.6,818.0) scale(0.72,1)" text-anchor="middle" font-size="42" font-weight="normal" stroke="#000" stroke-width="0.5" fill="#000">4</text>
<line x1="1316.0" y1="792.5" x2="1335.0" y2="815.5" stroke-width="2.2"/>
<line x1="1335.0" y1="792.5" x2="1316.0" y2="815.5" stroke-width="2.2"/>
<text class="t" transform="translate(1364.0,818.0) scale(0.72,1)" text-anchor="middle" font-size="42" font-weight="normal" stroke="#000" stroke-width="0.5" fill="#000">018</text>
<line x1="1355.1" y1="790.0" x2="1342.5" y2="817.0" stroke-width="1.4"/>
<rect x="1561.0" y="645.0" width="21.0" height="203.0" rx="3" stroke-width="2.0" fill="none"/>
<polyline points="1561.0,682.4 1557.0,686.0 1557.0,807.0 1561.0,810.6" stroke-width="1.6" fill="none"/>
<path d="M1582.4,694 Q1586,703.4 1593,703.4 L1614,698.9 L1751,698.9 Q1758,700 1761.2,704.4" stroke-width="2.0" fill="none"/>
<path d="M1582.4,798 Q1588,792 1596,792 L1614,793.3 L1752,793.3 Q1759,793 1762.4,788.7" stroke-width="2.0" fill="none"/>
<path d="M1582.4,740.3 L1638,740.3 Q1646,740 1649,735.5" stroke-width="2.0" fill="none"/>
<path d="M1582.4,752.7 L1638,752.7 Q1646,753 1648,757.6" stroke-width="2.0" fill="none"/>
<path d="M1696.5,698.9 A132.0,132.0 0 0 1 1949.8,726.4" stroke-width="2.0" fill="none"/>
<path d="M1700.2,698.9 A128.5,128.5 0 0 1 1946.4,727.1" stroke-width="1.8" fill="none"/>
<path d="M1924.7,734.8 C1918,690 1875,632 1819.4,630.5 C1768,630 1725,660 1706.6,698.9" stroke-width="2.0" fill="none"/>
<path d="M1731.5,698.2 A100.5,100.5 0 0 1 1799.5,648.5" stroke-width="2.0" fill="none"/>
<path d="M1838.5,648.3 A100.5,100.5 0 0 1 1917.9,727.0" stroke-width="2.0" fill="none"/>
<path d="M1918.1,766.0 A100.5,100.5 0 0 1 1838.5,845.7" stroke-width="2.0" fill="none"/>
<path d="M1800.0,845.6 A100.5,100.5 0 0 1 1731.2,795.1" stroke-width="2.0" fill="none"/>
<path d="M1838.0,686.8 A63.0,63.0 0 0 1 1879.1,727.0" stroke-width="2.0" fill="none"/>
<path d="M1879.3,766.6 A63.0,63.0 0 0 1 1838.2,807.1" stroke-width="2.0" fill="none"/>
<path d="M1700.5,794.3 C1712,830 1750,868 1800,875.6 L1840,875.6 C1870,872 1900,852 1919.5,835.8 C1935,824 1950,812 1970,800.7 C1990,792 2015,786.4 2031,786.4 L2046.4,786.4 Q2052,787 2054,791.8" stroke-width="2.0" fill="none"/>
<polyline points="1800.0,875.6 1800.3,881.0 1839.0,881.0 1840.0,875.6" stroke-width="2.0" fill="none"/>
<path d="M1799.5,690 L1801,648 Q1803,641 1811,637.4 L1826.8,637.4 Q1834,640 1837.5,647 L1838.2,719.4 Q1839,727 1846,727.7 L1915.8,727.7" stroke-width="2.0" fill="none"/>
<path d="M1915.8,727.7 Q1928.5,732 1928.5,747 Q1928.5,762 1915.8,766 L1846,765.6 Q1839,767 1838.2,774 L1838.2,845 Q1837,853 1827,856.2 L1810.5,856.2 Q1801,853 1800.3,845 L1800.3,774 Q1800,767 1793,767.4 L1723.6,767.4 Q1708.5,763 1708.5,747 Q1708.5,731 1722.3,726.6 L1793.5,729.4 Q1801,728 1802,718 L1799.5,690" stroke-width="2.0" fill="none"/>
<line x1="1800.0" y1="680.0" x2="1838.0" y2="680.0" stroke-width="2.0"/>
<line x1="1800.0" y1="813.0" x2="1838.0" y2="813.0" stroke-width="2.0"/>
<line x1="1885.0" y1="727.7" x2="1885.0" y2="765.6" stroke-width="2.0"/>
<line x1="1752.0" y1="727.5" x2="1752.0" y2="766.5" stroke-width="2.0"/>
<circle cx="1819.0" cy="657.3" r="7.9" stroke-width="2.0" fill="none"/>
<circle cx="1819.0" cy="836.4" r="7.9" stroke-width="2.0" fill="none"/>
<path d="M1744.5,698 Q1746,693.3 1752,693 L1799,690" stroke-width="2.0" fill="none"/>
<path d="M1744,798 Q1746,803 1752,803 L1799.4,804.4" stroke-width="2.0" fill="none"/>
<path d="M1932.4,679 L2051,679 Q2054,678 2056.4,674" stroke-width="2.0" fill="none"/>
<path d="M1927.7,737.9 C1940,730 1955,722 1966.3,717.8 C1985,712 2000,709.4 2011,709.4 L2051,709.4 Q2054,708 2056.4,704" stroke-width="2.0" fill="none"/>
<path d="M1927.7,740.6 L2051,740.6 Q2054,740 2056.4,735.5" stroke-width="2.0" fill="none"/>
<path d="M1927.7,752 L2046,752 Q2052,753 2054,757.9" stroke-width="2.0" fill="none"/>
<path d="M1946,679 C1955,675 1962,670.5 1975,670.5 L1983.2,670.5" stroke-width="2.8" fill="none"/>
<rect x="1993.0" y="669.0" width="12.0" height="10.0" rx="0" stroke-width="1.8" fill="none"/>
<line x1="1997.0" y1="669.3" x2="1997.0" y2="679.0" stroke-width="1.6"/>
<polyline points="1947.8,817.2 1970.9,818.8 2004.8,818.8" stroke-width="2.0" fill="none"/>
<rect x="1993.0" y="793.0" width="12.0" height="26.0" rx="0" stroke-width="1.8" fill="none"/>
<line x1="1997.0" y1="792.6" x2="1997.0" y2="818.8" stroke-width="1.6"/>
<rect x="2055.0" y="645.0" width="21.0" height="203.0" rx="3" stroke-width="2.0" fill="none"/>
<polyline points="2076.4,678.0 2081.8,682.0 2081.8,808.0 2076.4,812.0" stroke-width="1.6" fill="none"/>
<line x1="1548.0" y1="747.5" x2="1654.6" y2="747.5" stroke-width="1.0"/>
<line x1="1703.4" y1="747.5" x2="1794.9" y2="747.5" stroke-width="1.0"/>
<line x1="1842.0" y1="747.5" x2="1929.0" y2="747.5" stroke-width="1.0"/>
<line x1="1982.4" y1="747.5" x2="2089.0" y2="747.5" stroke-width="1.0"/>
<line x1="1678.0" y1="747.5" x2="1680.0" y2="747.5" stroke-width="1.0"/>
<line x1="1957.0" y1="747.5" x2="1959.0" y2="747.5" stroke-width="1.0"/>
<line x1="1819.5" y1="608.5" x2="1819.5" y2="678.7" stroke-width="1.0"/>
<line x1="1819.5" y1="701.0" x2="1819.5" y2="795.0" stroke-width="1.0"/>
<line x1="1819.5" y1="817.0" x2="1819.5" y2="890.0" stroke-width="1.0"/>
<line x1="1819.5" y1="689.0" x2="1819.5" y2="691.0" stroke-width="1.0"/>
<line x1="1819.5" y1="806.0" x2="1819.5" y2="808.0" stroke-width="1.0"/>
<line x1="1830.0" y1="657.5" x2="2165.7" y2="657.5" stroke-width="1.0"/>
<line x1="1830.0" y1="836.5" x2="2165.7" y2="836.5" stroke-width="1.0"/>
<line x1="2154.5" y1="657.4" x2="2154.5" y2="836.2" stroke-width="1.0"/>
<polygon points="2154.6,657.4 2157.2,672.4 2157.2,674.4 2152.0,674.4 2152.0,672.4" fill="#000" stroke="none"/>
<polygon points="2154.6,836.2 2152.0,821.2 2152.0,819.2 2157.2,819.2 2157.2,821.2" fill="#000" stroke="none"/>
<text class="t" transform="translate(2146.0,746.5) rotate(-90) scale(0.72,1)" text-anchor="middle" font-size="42" font-weight="normal" stroke="#000" stroke-width="0.5" fill="#000">144</text>
<line x1="1782.4" y1="673.5" x2="1924.2" y2="613.4" stroke-width="1.0"/>
<line x1="1924.2" y1="613.5" x2="2020.3" y2="613.5" stroke-width="1.0"/>
<polygon points="1811.7,660.4 1798.9,668.6 1797.1,669.4 1795.1,664.6 1796.9,663.8" fill="#000" stroke="none"/>
<polygon points="1826.3,654.2 1839.1,646.0 1840.9,645.2 1842.9,650.0 1841.1,650.8" fill="#000" stroke="none"/>
<text class="t" transform="translate(1984.0,606.0) scale(0.64,1)" text-anchor="middle" font-size="42" font-weight="normal" stroke="#000" stroke-width="0.5" fill="#000">2&#8211;M16</text>
<text class="t" transform="translate(1797.0,562.8) scale(0.6,1)" text-anchor="middle" font-size="57" font-weight="normal" stroke="#000" stroke-width="0.5" fill="#000">K</text>
<path d="M1829,517.5 L1825.8,528.5" stroke-width="2.6" fill="none"/>
<path d="M1816.4,526 L1816.4,569" stroke-width="2.8" fill="none"/>
<path d="M1816,529.1 L1849,529.1" stroke-width="1.9" fill="none"/>
<path d="M1848,525 L1848,564 L1838.5,563" stroke-width="3.2" fill="none"/>
<path d="M1846.5,563 L1845,568.5" stroke-width="2.2" fill="none"/>
<path d="M1824.4,537 L1824.4,558 M1839.3,537 L1839.3,557" stroke-width="2.8" fill="none"/>
<path d="M1824,539.4 L1840,539.4" stroke-width="2.6" fill="none"/>
<path d="M1824,552 L1840,552" stroke-width="2.0" fill="none"/>
<text class="t" transform="translate(1644.3,1284.5) scale(0.78,1)" text-anchor="middle" font-size="29" font-weight="normal" stroke="#000" stroke-width="0.9" fill="#000">T</text>
<text class="t" transform="translate(1658.5,1284.5) scale(0.72,1)" text-anchor="middle" font-size="29" font-weight="normal" stroke="#000" stroke-width="0.9" fill="#000">D</text>
<text class="t" transform="translate(1672.0,1284.5) scale(0.9,1)" text-anchor="middle" font-size="29" font-weight="normal" stroke="#000" stroke-width="0.9" fill="#000">5</text>
<text class="t" transform="translate(1685.8,1284.5) scale(0.9,1)" text-anchor="middle" font-size="29" font-weight="normal" stroke="#000" stroke-width="0.9" fill="#000">0</text>
<text class="t" transform="translate(1699.3,1284.5) scale(0.85,1)" text-anchor="middle" font-size="29" font-weight="normal" stroke="#000" stroke-width="0.9" fill="#000">&#8211;</text>
<text class="t" transform="translate(1713.9,1284.5) scale(0.9,1)" text-anchor="middle" font-size="29" font-weight="normal" stroke="#000" stroke-width="0.9" fill="#000">6</text>
<text class="t" transform="translate(1727.8,1284.5) scale(0.9,1)" text-anchor="middle" font-size="29" font-weight="normal" stroke="#000" stroke-width="0.9" fill="#000">0</text>
<text class="t" transform="translate(1741.6,1284.5) scale(0.72,1)" text-anchor="middle" font-size="29" font-weight="normal" stroke="#000" stroke-width="0.9" fill="#000">G</text>
<text class="t" transform="translate(1755.4,1284.5) scale(1.1,1)" text-anchor="middle" font-size="29" font-weight="normal" stroke="#000" stroke-width="0.9" fill="#000">/</text>
<text class="t" transform="translate(1768.9,1284.5) scale(0.9,1)" text-anchor="middle" font-size="29" font-weight="normal" stroke="#000" stroke-width="0.9" fill="#000">2</text>
</g>
</svg></div></body></html>
